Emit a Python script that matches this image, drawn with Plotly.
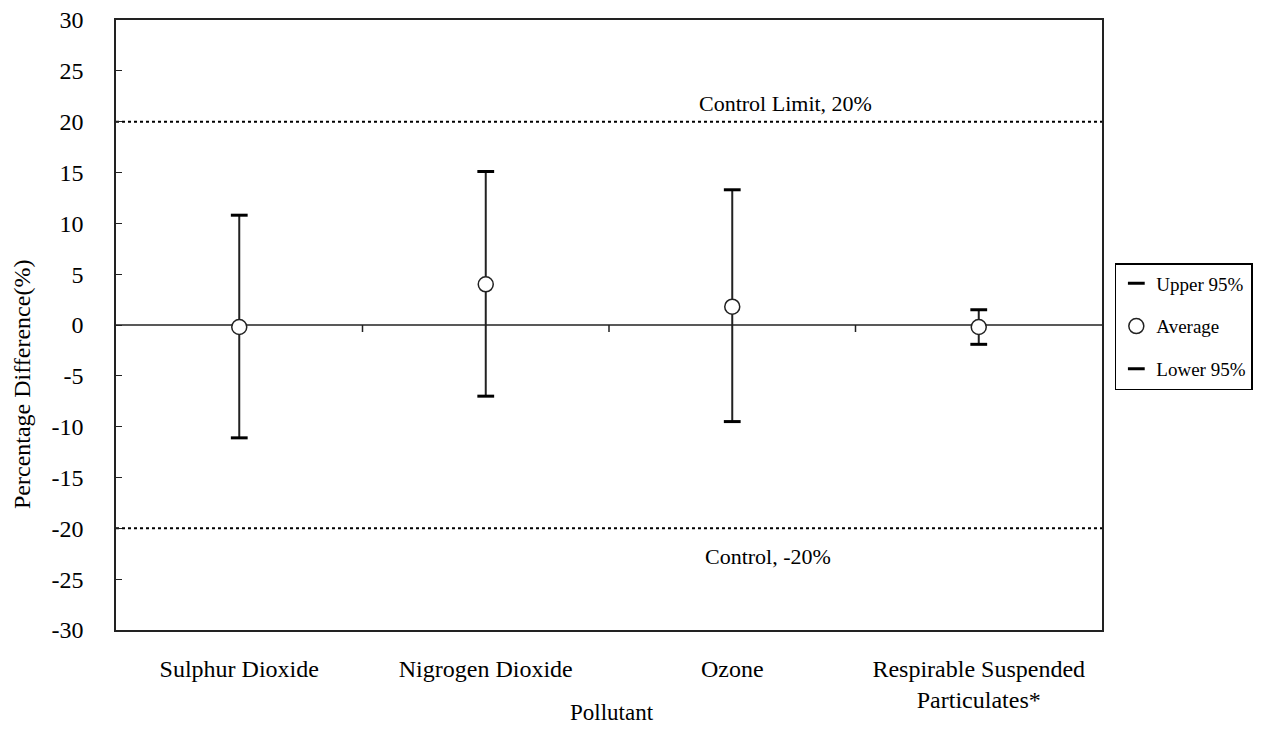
import plotly.graph_objects as go

categories = ["Sulphur Dioxide", "Nigrogen Dioxide", "Ozone", "Respirable Suspended<br>Particulates*"]
upper95 = [10.8, 15.1, 13.3, 1.5]
average = [-0.2, 4.0, 1.8, -0.2]
lower95 = [-11.1, -7.0, -9.5, -1.9]
control_upper = 20
control_lower = -20
y_ticks = list(range(-30, 35, 5))
y_tick_text = [str(v) for v in y_ticks]

FONT = "Liberation Serif"
INK = "#222222"

fig = go.Figure()

# high-low connecting lines
lx, ly = [], []
for c, lo, hi in zip(categories, lower95, upper95):
    lx += [c, c, None]
    ly += [lo, hi, None]
fig.add_trace(go.Scatter(x=lx, y=ly, mode="lines", line=dict(color=INK, width=2),
                         showlegend=False, hoverinfo="skip"))

fig.add_trace(go.Scatter(x=categories, y=upper95, mode="markers", name="Upper 95%",
                         marker=dict(symbol="line-ew", size=12, line=dict(color="black", width=3)),
                         legendrank=1, legendgroup="u"))
fig.add_trace(go.Scatter(x=categories, y=lower95, mode="markers", name="Lower 95%",
                         marker=dict(symbol="line-ew", size=12, line=dict(color="black", width=3)),
                         legendrank=3, legendgroup="l"))
fig.add_trace(go.Scatter(x=categories, y=average, mode="markers", name="Average",
                         marker=dict(symbol="circle", size=15, color="white",
                                     line=dict(color=INK, width=1.5)),
                         legendrank=2, legendgroup="a"))

shapes = [
    dict(type="line", xref="x domain", yref="y", x0=0, x1=1, y0=0, y1=0,
         line=dict(color=INK, width=1.5), layer="below"),
    dict(type="line", xref="x domain", yref="y", x0=0, x1=1, y0=control_upper, y1=control_upper,
         line=dict(color="black", width=2, dash="dot"), layer="below"),
    dict(type="line", xref="x domain", yref="y", x0=0, x1=1, y0=control_lower, y1=control_lower,
         line=dict(color="black", width=2, dash="dot"), layer="below"),
]
for i in range(len(categories) - 1):
    shapes.append(dict(type="line", xref="x", yref="y", ysizemode="pixel", yanchor=0,
                       x0=i + 0.5, x1=i + 0.5, y0=0, y1=-7,
                       line=dict(color=INK, width=1.5)))

# page body has an 8px margin, so the figure is sized/offset to compensate
fig.update_layout(
    width=1255, height=717,
    margin=dict(l=108, r=161, t=12, b=95, autoexpand=False),
    paper_bgcolor="white", plot_bgcolor="white",
    font=dict(family=FONT, size=23, color="black"),
    shapes=shapes,
    annotations=[
        dict(text="Control Limit, 20%", xref="x domain", yref="y", x=0.679, y=21.8,
             xanchor="center", yanchor="middle", showarrow=False, font=dict(size=22, family=FONT)),
        dict(text="Control, -20%", xref="x domain", yref="y", x=0.661, y=-22.8,
             xanchor="center", yanchor="middle", showarrow=False, font=dict(size=22, family=FONT)),
        dict(text="Percentage Difference(%)", xref="paper", yref="y", x=-0.0953, y=-5.9,
             xanchor="center", yanchor="middle", textangle=-90, showarrow=False,
             font=dict(size=24, family=FONT)),
        dict(text="Pollutant", xref="paper", yref="paper", x=0.503, y=-0.136,
             xanchor="center", yanchor="middle", showarrow=False, font=dict(size=23, family=FONT)),
    ],
    legend=dict(x=1.013, y=0.6016, xanchor="left", yanchor="top",
                bordercolor="black", borderwidth=1.5, bgcolor="white",
                font=dict(size=19, family=FONT), traceorder="grouped",
                tracegroupgap=15, itemwidth=30),
    showlegend=True,
)
fig.update_xaxes(range=[-0.5, 3.5], showline=True, linecolor=INK, linewidth=1.5, mirror=True,
                 ticks="", showgrid=False, zeroline=False, ticklabelstandoff=16,
                 automargin=False, tickfont=dict(size=24))
fig.update_yaxes(range=[-30, 30], tickvals=y_ticks, ticktext=y_tick_text, showline=True,
                 linecolor=INK, linewidth=1.5, mirror=True, ticks="inside", ticklen=6,
                 tickcolor=INK, showgrid=False, zeroline=False, automargin=False,
                 ticklabelstandoff=26, tickfont=dict(size=24), ticklabeloverflow="allow")

fig.write_html("out.html")
